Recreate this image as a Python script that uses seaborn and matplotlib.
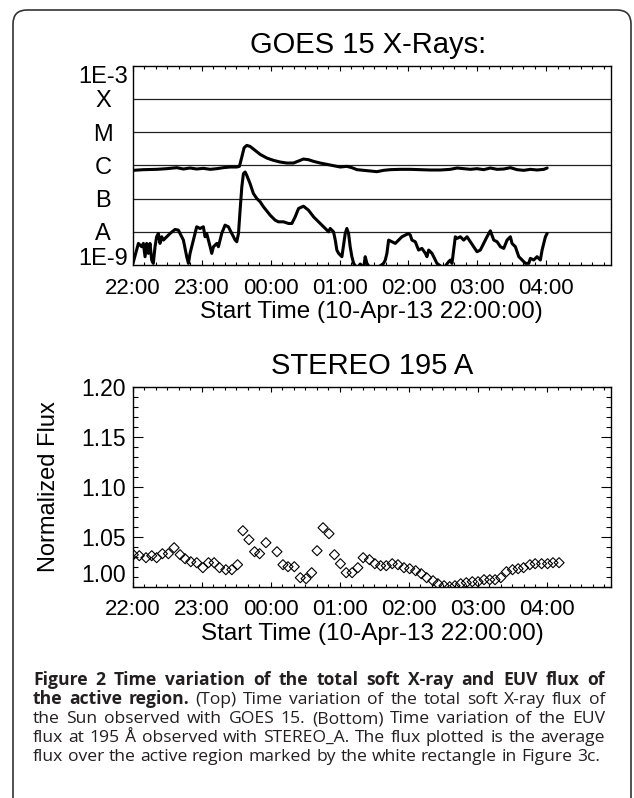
import numpy as np
import matplotlib
matplotlib.use('Agg')
import matplotlib.pyplot as plt
from matplotlib.ticker import MultipleLocator, NullLocator
from matplotlib.patches import FancyBboxPatch
from matplotlib.transforms import IdentityTransform
import seaborn as sns

sns.set_theme(style='white', rc={'text.color': 'black', 'xtick.color': 'black',
                                 'ytick.color': 'black', 'axes.edgecolor': 'black',
                                 'axes.labelcolor': 'black'})
plt.rcParams['font.family'] = ['Liberation Sans', 'DejaVu Sans']

# GOES 15 long channel (1-8 A): minutes after 22:00, log10 flux
goes_long_t = [0.3, 9.0, 20.6, 29.4, 38.1, 43.9, 49.7, 55.5, 61.3, 67.2, 73.0, 78.8, 84.6, 90.4, 92.7,
               94.8, 96.8, 99.1, 102.0, 106.4, 110.8, 116.6, 122.4, 128.2, 134.0, 139.8, 144.2, 148.5,
               152.9, 157.3, 163.1, 168.9, 174.7, 180.5, 186.3, 190.7, 195.1, 200.9, 206.7, 212.5,
               218.3, 224.1, 232.8, 241.6, 250.3, 259.0, 267.7, 276.5, 282.3, 288.1, 293.9, 299.7,
               305.5, 311.3, 317.2, 323.0, 328.8, 334.6, 340.4, 346.2, 352.0, 357.9, 360.8]
goes_long_log = [-6.15, -6.13, -6.12, -6.10, -6.07, -6.11, -6.08, -6.11, -6.09, -6.12, -6.10, -6.07,
                 -6.05, -6.05, -6.03, -5.75, -5.47, -5.40, -5.43, -5.55, -5.67, -5.78, -5.85, -5.90,
                 -5.93, -5.93, -5.87, -5.81, -5.83, -5.88, -5.93, -5.97, -6.01, -6.05, -6.03, -6.07,
                 -6.13, -6.15, -6.17, -6.19, -6.15, -6.13, -6.12, -6.12, -6.13, -6.14, -6.14, -6.12,
                 -6.08, -6.10, -6.12, -6.10, -6.13, -6.08, -6.12, -6.11, -6.07, -6.13, -6.15, -6.12,
                 -6.14, -6.12, -6.08]

# GOES 15 short channel (0.5-4 A)
goes_short_t = [0.0, 4.7, 7.6, 9.0, 10.5, 11.9, 13.4, 14.8, 16.3, 17.7,
                19.2, 20.6, 22.1, 23.5, 25.0, 26.5, 29.4, 32.3, 36.6, 39.5,
                41.0, 43.9, 46.8, 48.3, 49.7, 52.6, 55.5, 58.4, 61.3, 62.8,
                64.2, 67.2, 68.6, 70.1, 73.0, 74.4, 77.3, 80.2, 83.1, 86.0,
                89.0, 90.4, 91.9, 93.3, 94.8, 96.2, 97.7, 99.1, 102.0, 104.9,
                107.9, 110.8, 113.7, 119.5, 123.8, 126.7, 131.1, 135.5, 138.4, 141.3,
                144.2, 148.5, 152.9, 157.3, 163.1, 167.4, 170.4, 171.8, 174.7, 176.2,
                177.6, 179.1, 182.0, 184.9, 186.3, 187.8, 189.2, 190.7, 192.2, 195.1,
                198.0, 200.9, 202.3, 203.8, 206.7, 212.5, 218.3, 219.8, 221.2, 222.7,
                225.6, 228.5, 231.4, 234.3, 237.2, 240.1, 241.6, 243.0, 245.9, 248.8,
                251.7, 254.7, 256.1, 257.6, 260.5, 263.4, 264.8, 270.6, 275.0, 276.5,
                277.9, 280.8, 282.3, 285.2, 288.1, 291.0, 293.9, 296.8, 299.7, 302.6,
                305.5, 308.4, 311.3, 314.3, 317.2, 320.1, 323.0, 325.9, 328.8, 330.2,
                333.1, 336.1, 339.0, 341.9, 344.8, 346.2, 349.1, 352.0, 354.9, 356.4,
                359.3, 360.8]
goes_short_log = [-8.95, -8.35, -8.45, -8.35, -8.75, -8.35, -8.65, -8.35, -8.85, -8.95,
                  -8.45, -8.15, -8.05, -8.35, -8.15, -8.25, -8.15, -8.05, -7.93, -7.95,
                  -8.05, -8.25, -8.75, -8.95, -8.65, -8.25, -7.85, -7.90, -7.85, -8.15,
                  -8.05, -8.45, -8.65, -8.45, -8.35, -8.45, -8.05, -7.80, -7.85, -8.05,
                  -8.25, -8.30, -8.05, -7.35, -6.65, -6.25, -6.20, -6.30, -6.55, -6.85,
                  -7.00, -7.10, -7.25, -7.50, -7.65, -7.70, -7.70, -7.75, -7.75, -7.55,
                  -7.30, -7.23, -7.35, -7.55, -7.75, -7.90, -8.00, -7.90, -8.00, -8.25,
                  -8.55, -8.65, -8.75, -8.05, -7.90, -8.05, -8.45, -8.75, -8.95, -9.10,
                  -8.97, -9.10, -8.75, -8.95, -9.10, -9.10, -8.95, -8.85, -8.65, -8.25,
                  -8.30, -8.35, -8.25, -8.15, -8.10, -8.05, -8.10, -8.25, -8.30, -8.55,
                  -8.50, -8.65, -8.75, -8.55, -8.65, -8.85, -8.95, -9.10, -8.90, -8.85,
                  -8.95, -8.15, -8.20, -8.15, -8.25, -8.15, -8.30, -8.45, -8.60, -8.55,
                  -8.35, -8.15, -7.97, -8.25, -8.30, -8.45, -8.50, -8.25, -8.15, -8.35,
                  -8.45, -8.75, -8.85, -8.95, -8.95, -8.80, -8.85, -8.75, -8.85, -8.55,
                  -8.15, -8.05]

# STEREO-A 195 normalized flux
stereo_t = [0.3, 5.5, 11.3, 16.3, 20.6, 25.6, 30.8, 35.8, 41.0, 45.3, 50.3, 55.5, 60.8, 65.7, 70.6,
            75.3, 80.8, 86.0, 91.0, 95.6, 100.9, 105.8, 110.2, 115.7, 125.3, 130.5, 134.9, 140.4,
            145.6, 150.6, 155.5, 160.2, 165.4, 170.6, 175.3, 180.5, 185.5, 190.7, 195.7, 200.3,
            205.8, 210.5, 215.5, 220.4, 225.6, 230.6, 235.8, 240.8, 246.0, 250.9, 255.6, 261.1,
            265.4, 270.7, 275.6, 280.2, 285.2, 290.1, 295.3, 300.3, 305.5, 310.5, 315.1, 320.1,
            325.0, 330.3, 335.2, 339.9, 345.4, 350.0, 355.6, 360.8, 365.5, 370.8]
stereo_flux = [1.032, 1.031, 1.029, 1.031, 1.029, 1.033, 1.033, 1.039, 1.032, 1.028,
               1.025, 1.024, 1.019, 1.024, 1.024, 1.019, 1.017, 1.017, 1.022, 1.056,
               1.047, 1.035, 1.033, 1.044, 1.035, 1.022, 1.020, 1.020, 1.009, 1.008,
               1.014, 1.036, 1.059, 1.053, 1.032, 1.023, 1.014, 1.014, 1.019, 1.029,
               1.027, 1.023, 1.021, 1.021, 1.023, 1.022, 1.019, 1.018, 1.016, 1.013,
               1.009, 1.006, 1.003, 1.001, 1.000, 1.001, 1.003, 1.004, 1.005, 1.005,
               1.007, 1.007, 1.007, 1.009, 1.015, 1.017, 1.018, 1.019, 1.022, 1.023,
               1.023, 1.023, 1.024, 1.024]

hour_ticks = [0, 60, 120, 180, 240, 300, 360]
hour_labels = ['22:00', '23:00', '00:00', '01:00', '02:00', '03:00', '04:00']
goes_levels = ['1E-9', 'A', 'B', 'C', 'M', 'X', '1E-3']
stereo_ticks = [1.00, 1.05, 1.10, 1.15, 1.20]
stereo_labels = ['1.00', '1.05', '1.10', '1.15', '1.20']

caption = [
    [("Figure 2 Time variation of the total soft X-ray and EUV flux of", True)],
    [("the active region.", True), ("(Top) Time variation of the total soft X-ray flux of", False)],
    [("the Sun observed with GOES 15. (Bottom) Time variation of the EUV", False)],
    [("flux at 195 Å observed with STEREO_A. The flux plotted is the average", False)],
    [("flux over the active region marked by the white rectangle in Figure 3c.", False)],
]

W, H = 634, 798
fig = plt.figure(figsize=(W / 100, H / 100), dpi=100)
ax1 = fig.add_axes([133 / W, 1 - 265 / H, 477.5 / W, 199.3 / H])
ax2 = fig.add_axes([133 / W, 1 - 586.7 / H, 478 / W, 200 / H])

# top panel: GOES
sns.lineplot(x=goes_long_t, y=10.0 ** np.array(goes_long_log), ax=ax1, color='black',
             lw=2.2, estimator=None, sort=False)
sns.lineplot(x=goes_short_t, y=10.0 ** np.array(goes_short_log), ax=ax1, color='black',
             lw=2.2, estimator=None, sort=False)
ax1.set_yscale('log')
ax1.set_ylim(1e-9, 1e-3)
for lev in 10.0 ** np.arange(-8, -3):
    ax1.axhline(lev, color='#222222', lw=0.9, zorder=0)
ax1.set_yticks(10.0 ** np.arange(-9, -2))
ax1.set_yticklabels(goes_levels, ha='center')
ax1.yaxis.set_minor_locator(NullLocator())
ax1.tick_params(axis='y', which='both', left=False, right=False, length=0,
                labelsize=17, pad=21.5)
ax1.get_yticklabels()[0].set_va('baseline')
ax1.get_yticklabels()[-1].set_va('top')

# bottom panel: STEREO
sns.scatterplot(x=stereo_t, y=stereo_flux, ax=ax2, marker='D', s=26,
                facecolor='none', edgecolor='black', linewidth=0.8, zorder=3)
ax2.set_ylim(1.0, 1.2)
ax2.set_yticks(stereo_ticks)
ax2.set_yticklabels(stereo_labels)
ax2.yaxis.set_minor_locator(MultipleLocator(0.01))
ax2.tick_params(axis='y', which='both', direction='in', left=True, right=True,
                labelsize=16.5, pad=5, width=0.8)
ax2.tick_params(axis='y', which='major', length=7)
ax2.tick_params(axis='y', which='minor', length=3.6)
ax2.get_yticklabels()[0].set_va('bottom')
ax2.set_ylabel('Normalized Flux', fontsize=17)
ax2.yaxis.set_label_coords(-0.153, 0.5)

for ax in (ax1, ax2):
    ax.set_xlim(0, 416)
    ax.set_xticks(hour_ticks)
    ax.set_xticklabels(hour_labels)
    ax.xaxis.set_minor_locator(MultipleLocator(10))
    ax.tick_params(axis='x', which='both', direction='in', top=True, bottom=True,
                   labelsize=16, pad=9, width=0.8)
    ax.tick_params(axis='x', which='major', length=3.8)
    ax.tick_params(axis='x', which='minor', length=2.2)
    ax.set_xlabel('Start Time (10-Apr-13 22:00:00)', fontsize=17.5, labelpad=2)
    for sp in ax.spines.values():
        sp.set_visible(True)
        sp.set_color('black')
        sp.set_linewidth(1.0)

fig.text(368 / W, 1 - 53 / H, 'GOES 15 X-Rays:', ha='center', va='baseline', fontsize=21)
fig.text(372 / W, 1 - 374 / H, 'STEREO 195 A', ha='center', va='baseline', fontsize=21)

# frame around the figure
frame = FancyBboxPatch((13, -20), 618, 808, boxstyle='round,pad=0,rounding_size=14',
                       transform=IdentityTransform(), fill=False, ec='#333333', lw=1.2)
fig.add_artist(frame)

# caption, justified line by line
cap_font = ['Open Sans', 'DejaVu Sans']
cap_fs = 12.6
cap_color = '#231f20'
x_left, x_right = 33, 605
baselines = [685, 704, 723, 742, 761]

fig.canvas.draw()
r = fig.canvas.get_renderer()
probe1 = fig.text(0, 0, 'x x', fontsize=cap_fs, family=cap_font)
probe2 = fig.text(0, 0, 'xx', fontsize=cap_fs, family=cap_font)
space_w = probe1.get_window_extent(r).width - probe2.get_window_extent(r).width
probe1.remove()
probe2.remove()

for i, line in enumerate(caption):
    words = []
    for seg, bold in line:
        words += [(w, bold) for w in seg.split(' ')]
    texts = []
    for w, bold in words:
        t = fig.text(0, 1 - baselines[i] / H, w, fontsize=cap_fs, family=cap_font,
                     weight='bold' if bold else 'normal', color=cap_color,
                     ha='left', va='baseline')
        texts.append(t)
    widths = [t.get_window_extent(r).width for t in texts]
    if i < len(caption) - 1:
        gap = (x_right - x_left - sum(widths)) / (len(words) - 1)
    else:
        gap = space_w
    x = x_left
    for t, wd in zip(texts, widths):
        t.set_x(x / W)
        x += wd + gap

fig.savefig('out.png', dpi=100)
